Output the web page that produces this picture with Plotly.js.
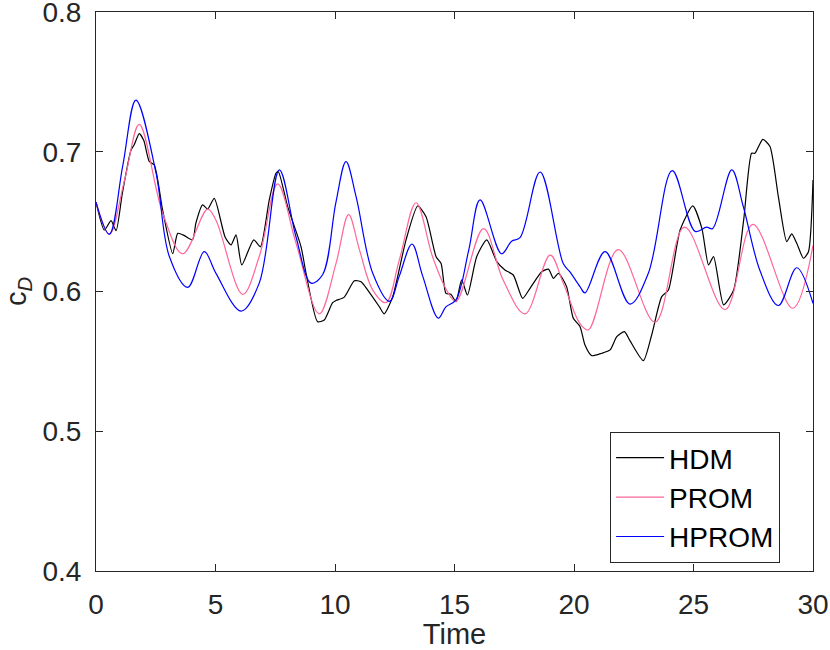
<!DOCTYPE html>
<html>
<head>
<meta charset="utf-8">
<script src="https://cdn.plot.ly/plotly-3.0.1.min.js"></script>
<style>html,body{margin:0;padding:0;background:#fff;}#chart{width:830px;height:650px;}</style>
</head>
<body>
<div id="chart"></div>
<script>
// HDM (black)
const hdmT = [0,0.35,0.63,0.84,1.1,1.46,1.6,1.81,2.0,2.23,2.44,2.79,3.21,3.42,3.7,4.04,4.18,4.46,4.67,4.95,5.4,5.65,5.86,6.1,6.6,6.88,7.25,7.53,7.63,8.02,8.58,8.79,9.27,9.55,9.9,10.04,10.39,10.81,11.09,11.37,11.86,12.06,12.41,12.97,13.46,13.81,14.23,14.44,14.64,14.85,15.06,15.30,15.54,15.93,16.35,16.77,17.11,17.46,17.85,18.16,18.65,18.93,19.14,19.35,19.69,19.97,20.25,20.46,20.74,21.16,21.51,21.79,22.11,22.34,22.9,23.25,23.67,23.95,24.44,24.97,25.35,25.63,25.84,26.26,26.68,27.1,27.43,27.57,27.9,28.2,28.55,28.9,29.11,29.32,29.6,29.81,30.0];
const hdmV = [0.664,0.644,0.6507,0.6435,0.67,0.701,0.705,0.713,0.708,0.693,0.6905,0.658,0.627,0.6416,0.640,0.637,0.649,0.662,0.659,0.6667,0.639,0.6333,0.6405,0.619,0.637,0.632,0.6655,0.6846,0.6857,0.6607,0.632,0.613,0.5784,0.5796,0.592,0.5935,0.596,0.6077,0.607,0.601,0.589,0.584,0.596,0.6368,0.6612,0.6535,0.6249,0.6201,0.5987,0.598,0.5927,0.6083,0.5975,0.625,0.637,0.6214,0.6154,0.6118,0.5951,0.6023,0.6142,0.616,0.6094,0.613,0.6035,0.5808,0.575,0.5617,0.5541,0.5558,0.5582,0.5677,0.5713,0.5648,0.5505,0.5689,0.5963,0.6011,0.644,0.6612,0.6452,0.619,0.625,0.5904,0.6011,0.6512,0.6989,0.6989,0.7089,0.7037,0.6679,0.6357,0.6412,0.6345,0.6238,0.6285,0.6798];

// PROM (pink)
const promT = [0,0.56,1.2,1.81,2.79,3.63,4.67,5.02,6.14,6.83,7.60,8.37,9.34,10.04,10.57,11.02,11.58,12.13,12.69,13.39,14.08,14.64,15.06,16.21,17.04,17.95,19.0,19.55,20.25,20.6,21.85,23.39,24.62,26.32,27.48,29.15,30.0];
const promV = [0.664,0.641,0.68,0.7196,0.656,0.627,0.659,0.651,0.598,0.625,0.677,0.6345,0.584,0.620,0.655,0.630,0.601,0.592,0.6225,0.6635,0.625,0.602,0.593,0.645,0.608,0.584,0.626,0.606,0.577,0.5725,0.630,0.578,0.646,0.587,0.648,0.588,0.633];

// HPROM (blue)
const hpromT = [0,0.56,1.12,1.67,2.51,3.07,3.84,4.53,5.02,6.07,6.83,7.67,8.37,9.0,9.48,10.04,10.46,10.88,11.58,12.28,12.69,13.22,13.67,14.32,14.64,15.06,15.6,16.07,16.97,17.39,17.74,18.58,19.55,19.83,20.25,20.46,21.3,22.34,23.11,24.11,25.07,25.55,25.8,26.6,27.08,27.78,28.55,29.32,30.0];
const hpromV = [0.664,0.641,0.69,0.737,0.685,0.625,0.603,0.6285,0.613,0.586,0.606,0.687,0.639,0.606,0.612,0.664,0.693,0.668,0.613,0.593,0.611,0.634,0.611,0.581,0.589,0.594,0.63,0.6655,0.627,0.636,0.6385,0.6855,0.620,0.614,0.6035,0.599,0.6285,0.591,0.613,0.6865,0.643,0.646,0.645,0.687,0.661,0.615,0.590,0.617,0.5915];

const xTicks = [0,5,10,15,20,25,30];
const yTicks = [0.4,0.5,0.6,0.7,0.8];

const FONT = "'Liberation Sans', Arial, Helvetica, sans-serif";
const AX = '#262626';

const traces = [
  {x: hdmT, y: hdmV, name: 'HDM', mode: 'lines', line: {color: '#000000', width: 1.2, shape: 'spline', smoothing: 0.6}},
  {x: promT, y: promV, name: 'PROM', mode: 'lines', line: {color: '#ff6699', width: 1.2, shape: 'spline', smoothing: 1}},
  {x: hpromT, y: hpromV, name: 'HPROM', mode: 'lines', line: {color: '#0000ff', width: 1.2, shape: 'spline', smoothing: 1}}
];

const layout = {
  width: 830, height: 650,
  margin: {l: 96, r: 17, t: 12, b: 79},
  paper_bgcolor: '#ffffff', plot_bgcolor: '#ffffff',
  font: {family: FONT, size: 28, color: AX},
  showlegend: true,
  xaxis: {
    range: [0, 30], tickvals: xTicks, ticktext: xTicks.map(String),
    showgrid: false, zeroline: false,
    showline: true, linecolor: AX, linewidth: 1, mirror: 'ticks',
    ticks: 'inside', ticklen: 7, tickcolor: AX, tickwidth: 1,
    tickfont: {family: FONT, size: 28, color: AX},
    ticklabelstandoff: 8, ticklabeloverflow: 'allow',
    title: {text: 'Time', font: {family: FONT, size: 29, color: AX}, standoff: 6}
  },
  yaxis: {
    range: [0.4, 0.8], tickvals: yTicks, ticktext: yTicks.map(v => v.toFixed(1)),
    showgrid: false, zeroline: false,
    showline: true, linecolor: AX, linewidth: 1, mirror: 'ticks',
    ticks: 'inside', ticklen: 7, tickcolor: AX, tickwidth: 1,
    tickfont: {family: FONT, size: 28, color: AX},
    ticklabelstandoff: 8, ticklabeloverflow: 'allow',
    title: {text: 'c<sub><i>D</i></sub>', font: {family: FONT, size: 29, color: AX}, standoff: 12}
  },
  legend: {
    x: 0.717, y: 0.2487, xanchor: 'left', yanchor: 'top',
    bgcolor: '#ffffff', bordercolor: AX, borderwidth: 1,
    itemwidth: 48,
    font: {family: FONT, size: 28, color: '#000000'}
  }
};

Plotly.newPlot('chart', traces, layout, {displayModeBar: false, staticPlot: true});
</script>
</body>
</html>
